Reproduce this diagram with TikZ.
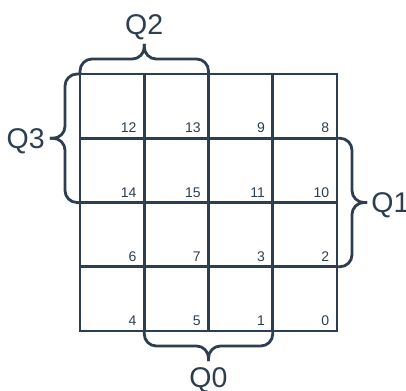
\documentclass[tikz,border=0pt]{standalone}
\usepackage{fontspec}
\setmainfont{Liberation Sans}
\usepackage{tikz}
\usetikzlibrary{calc}
\definecolor{kmap}{RGB}{44,62,80}

\begin{document}
\begin{tikzpicture}[line width=2.8pt, color=kmap,
  cell/.style={draw, minimum size=64.25pt, outer sep=0pt, inner sep=0pt},
  num/.style={font=\fontsize{14}{15}\selectfont, anchor=base east, inner sep=0pt},
  qlab/.style={font=\fontsize{28.5}{30}\selectfont, inner sep=0pt, text depth=0pt},
  brc/.style={rounded corners=12pt}]
  \useasboundingbox (-80pt,74pt) rectangle (326pt,-316pt);
  % cells of the map, numbered in the corner
  \foreach \n [count=\k from 0] in {12,13,9,8,14,15,11,10,6,7,3,2,4,5,1,0}{
    \pgfmathtruncatemacro{\col}{mod(\k,4)}
    \pgfmathtruncatemacro{\row}{\k/4}
    \node[cell] (c\n) at (\col*64.25pt+32.125pt, -\row*64.25pt-32.125pt) {};
    \node[num] (n\n) at ($(c\n.south east)+(-6.5pt,5.3pt)$) {\n};
  }
  % braces
  \draw[brc] (c12.north west) -- ++(0,15pt) -- ($(c12.north east)+(0,15pt)$) -- ++(0,15pt) coordinate (t2);
  \draw[brc] (c13.north east) -- ++(0,15pt) -- ($(c12.north east)+(0,15pt)$) -- ++(0,15pt);
  \draw[brc] (c12.north west) -- ++(-15pt,0) -- ($(c12.south west)+(-15pt,0)$) -- ++(-15pt,0) coordinate (t3);
  \draw[brc] (c14.south west) -- ++(-15pt,0) -- ($(c12.south west)+(-15pt,0)$) -- ++(-15pt,0);
  \draw[brc] (c10.north east) -- ++(15pt,0) -- ($(c10.south east)+(15pt,0)$) -- ++(15pt,0) coordinate (t1);
  \draw[brc] (c2.south east) -- ++(15pt,0) -- ($(c10.south east)+(15pt,0)$) -- ++(15pt,0);
  \draw[brc] (c5.south west) -- ++(0,-15pt) -- ($(c5.south east)+(0,-15pt)$) -- ++(0,-15pt) coordinate (t0);
  \draw[brc] (c1.south east) -- ++(0,-15pt) -- ($(c5.south east)+(0,-15pt)$) -- ++(0,-15pt);
  \node[qlab, anchor=south] (q2) at ($(t2)+(0,8pt)$) {Q2};
  \node[qlab, anchor=east] (q3) at ($(t3)+(-4pt,0)$) {Q3};
  \node[qlab, anchor=west] (q1) at ($(t1)+(3pt,0)$) {Q1};
  \node[qlab, anchor=north] (q0) at ($(t0)+(0,-5pt)$) {Q0};
\end{tikzpicture}
\end{document}
